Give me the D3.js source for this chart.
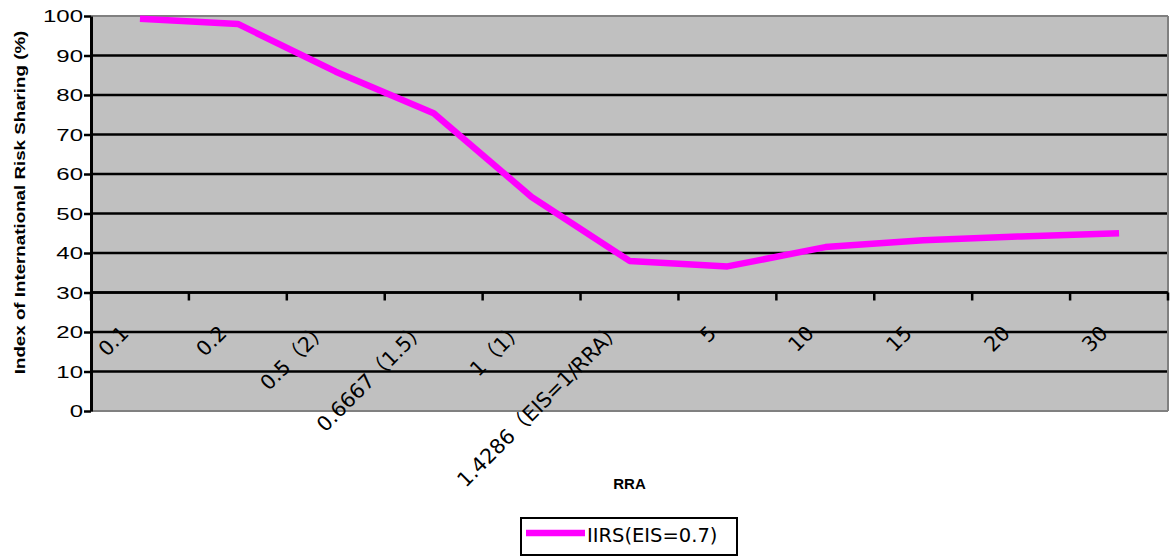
<!DOCTYPE html>
<html><head><meta charset="utf-8">
<script src="https://cdn.jsdelivr.net/npm/d3@7"></script>
<style>body{margin:0;background:#fff}svg{display:block}</style>
</head><body>
<svg id="c" width="1171" height="558"></svg>
<script>
const categories = ["0.1","0.2","0.5（2）","0.6667（1.5）","1（1）","1.4286（EIS=1/RRA）","5","10","15","20","30"];
const iirs = [99.3, 98.0, 85.9, 75.4, 54.2, 38.0, 36.6, 41.5, 43.2, 44.2, 45.0];
const yTicks = [0,10,20,30,40,50,60,70,80,90,100];
const seriesName = "IIRS(EIS=0.7)";
const xTitle = "RRA";
const yTitle = "Index of International Risk Sharing (%)";
const crossValue = 30;

const svg = d3.select("#c");
const L = 91, R = 1168, T = 16, B = 411;
const x = d3.scaleBand().domain(categories).range([L, R]).padding(0);
const y = d3.scaleLinear().domain([0, 100]).range([B, T]);

// plot background
svg.append("rect").attr("x", L).attr("y", T).attr("width", R - L).attr("height", B - T).attr("fill", "#c0c0c0");

// gridlines
svg.append("g").selectAll("line").data(yTicks.filter(d => d > 0 && d < 100)).join("line")
  .attr("x1", L).attr("x2", R).attr("y1", d => y(d)).attr("y2", d => y(d))
  .attr("stroke", "#000").attr("stroke-width", 2.5);

// border (gray)
svg.append("line").attr("x1", L).attr("x2", R).attr("y1", T).attr("y2", T).attr("stroke", "#808080").attr("stroke-width", 2);
svg.append("line").attr("x1", L).attr("x2", R).attr("y1", B).attr("y2", B).attr("stroke", "#808080").attr("stroke-width", 2);
svg.append("line").attr("x1", R).attr("x2", R).attr("y1", T).attr("y2", B).attr("stroke", "#808080").attr("stroke-width", 2);

// y axis
const ya = svg.append("g").attr("transform", `translate(${L},0)`)
  .call(d3.axisLeft(y).tickValues(yTicks).tickSize(7).tickSizeOuter(0).tickFormat(d3.format("d")));
ya.select(".domain").attr("stroke", "#000").attr("stroke-width", 3);
ya.selectAll(".tick line").attr("stroke", "#000").attr("stroke-width", 2.5);
ya.selectAll(".tick text").attr("font-family", "Liberation Sans, Arial, sans-serif").attr("font-size", 16)
  .attr("fill", "#000").attr("x", 0).attr("dy", "0.36em")
  .attr("transform", "translate(-8,0) scale(1.5,1)");

// x axis crossing at 30
const xa = svg.append("g").attr("transform", `translate(0,${y(crossValue)})`);
xa.append("line").attr("x1", L).attr("x2", R).attr("y1", 0).attr("y2", 0).attr("stroke", "#000").attr("stroke-width", 2.5);
const bounds = categories.map(c => x(c)).concat([R]);
xa.selectAll("line.tk").data(bounds).join("line").attr("class", "tk")
  .attr("x1", d => d).attr("x2", d => d).attr("y1", 0).attr("y2", 8)
  .attr("stroke", "#000").attr("stroke-width", 2.5);
xa.selectAll("text").data(categories).join("text")
  .attr("transform", d => `translate(${x(d) + x.bandwidth() / 2 - 10},42) rotate(-45)`)
  .attr("text-anchor", "end")
  .attr("dx", d => d.endsWith("）") ? "0.3em" : 0)
  .attr("font-family", "DejaVu Sans, Noto Sans CJK JP, sans-serif").attr("font-size", 20.5)
  .attr("fill", "#000").text(d => d);

// line
const line = d3.line().x((d, i) => x(categories[i]) + x.bandwidth() / 2).y(d => y(d));
svg.append("path").datum(iirs).attr("d", line).attr("fill", "none")
  .attr("stroke", "#ff00ff").attr("stroke-width", 6.5).attr("stroke-linejoin", "bevel");

// axis titles
svg.append("text").attr("x", (L + R) / 2).attr("y", 489).attr("text-anchor", "middle")
  .attr("font-family", "Liberation Sans, Arial, sans-serif").attr("font-weight", "bold").attr("font-size", 15)
  .text(xTitle);
svg.append("text").attr("transform", `translate(25,${(32 + 373) / 2}) rotate(-90) scale(1.21,1)`)
  .attr("text-anchor", "middle")
  .attr("font-family", "Liberation Sans, Arial, sans-serif").attr("font-weight", "bold").attr("font-size", 15.5)
  .text(yTitle);

// legend
const lg = svg.append("g");
lg.append("rect").attr("x", 521).attr("y", 518).attr("width", 216).attr("height", 37)
  .attr("fill", "#fff").attr("stroke", "#000").attr("stroke-width", 2);
lg.append("line").attr("x1", 526).attr("x2", 585).attr("y1", 533).attr("y2", 533)
  .attr("stroke", "#ff00ff").attr("stroke-width", 6.5);
lg.append("text").attr("x", 587).attr("y", 542)
  .attr("font-family", "DejaVu Sans, sans-serif").attr("font-size", 19.5).attr("fill", "#000")
  .text(seriesName);
</script>
</body></html>
